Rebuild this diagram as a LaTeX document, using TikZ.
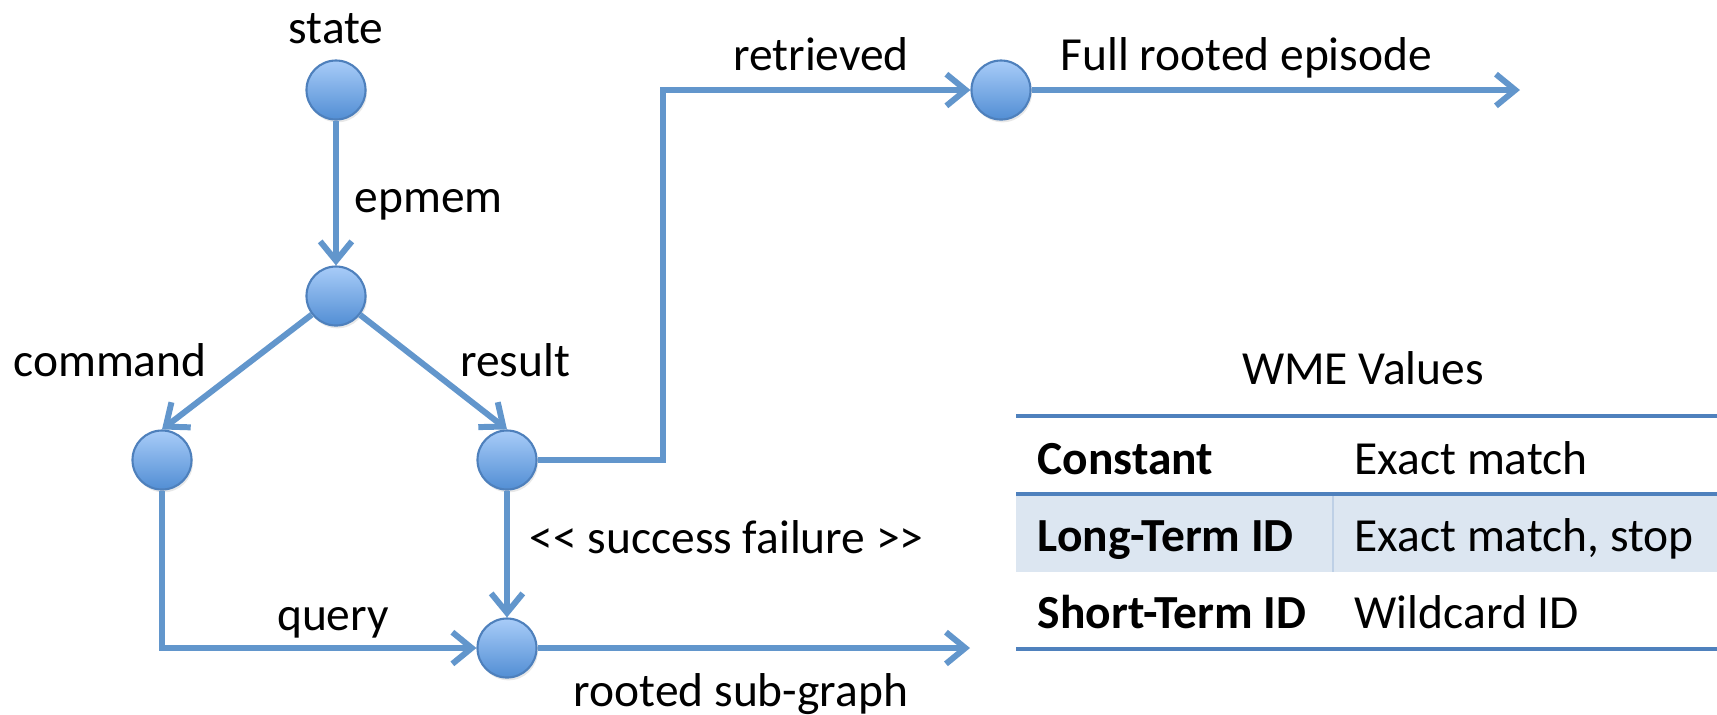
\documentclass[tikz,border=0pt]{standalone}
\usepackage{fontspec}
\setmainfont{Carlito}
\definecolor{epline}{RGB}{98,150,204}
\definecolor{epedge}{RGB}{78,128,188}
\definecolor{eptop}{RGB}{168,204,248}
\definecolor{epbottom}{RGB}{82,142,212}
\definecolor{eprule}{RGB}{79,129,189}
\definecolor{eprow}{RGB}{220,230,241}
\definecolor{epsep}{RGB}{190,208,230}
\usetikzlibrary{arrows.meta,positioning,shadows}

\begin{document}
\begin{tikzpicture}[x=0.01cm, y=-0.01cm,
    every node/.style={font=\fontsize{13.5pt}{16pt}\selectfont},
    dot/.style={circle, minimum size=0.59cm, inner sep=0pt, draw=epedge, line width=0.6pt,
      top color=eptop, bottom color=epbottom,
      drop shadow={opacity=0.18, shadow xshift=0.4pt, shadow yshift=-0.8pt}},
    wire/.style={draw=epline, line width=1.7pt},
    arr/.style={wire, -{Straight Barb[length=5.5pt, width=9pt, line width=1.7pt]}},
    lbl/.style={anchor=base, inner sep=0pt},
    rule/.style={draw=eprule, line width=1.1pt}]
  \useasboundingbox (0,0) rectangle (1717,714);

  % episode graph
  \node[dot] (state)     at (336, 90) {};
  \node[dot] (epmem)     at (336, 296) {};
  \node[dot] (command)   at (162, 460) {};
  \node[dot] (result)    at (507, 460) {};
  \node[dot] (retrieved) at (1001, 90) {};
  \node[dot] (query)     at (507, 648) {};
  \coordinate (riseTop)    at (663, 90);
  \coordinate (episodeEnd) at (1520, 90);
  \coordinate (subEnd)     at (970, 648);

  \draw[arr] (state) -- (epmem);
  \draw[arr] (epmem) -- (command.north);
  \draw[arr] (epmem) -- (result.north);
  \draw[arr] (result.east) -| (riseTop) -- (retrieved);
  \draw[arr] (retrieved) -- (episodeEnd);
  \draw[arr] (result) -- (query);
  \draw[arr] (command) |- (query);
  \draw[arr] (query) -- (subEnd);

  % edge labels
  \node[lbl] (stateLbl)   at (336, 43) {state};
  \node[lbl, anchor=base west] (epmemLbl) at (354, 212) {epmem};
  \node[lbl] (commandLbl) at (110, 376) {command};
  \node[lbl] (resultLbl)  at (515, 376) {result};
  \node[lbl] (retrLbl)    at (821, 70) {retrieved};
  \node[lbl, anchor=base west] (fullLbl) at (1060, 70) {Full rooted episode};
  \node[lbl, anchor=base west] (statusLbl) at (529, 553) {<{}< success failure >{}>};
  \node[lbl] (queryLbl)   at (333, 630) {query};
  \node[lbl] (subLbl)     at (741, 706) {rooted sub-graph};

  % WME value table
  \fill[eprow] (1016, 494) rectangle (1717, 572);
  \draw[epsep, line width=0.5pt] (1333, 494) -- (1333, 572);
  \draw[rule] (1016, 416) -- (1717, 416);
  \draw[rule] (1016, 494) -- (1717, 494);
  \draw[rule] (1016, 649) -- (1717, 649);
  \node[lbl] (wmeTitle) at (1363, 384) {WME Values};
  \node[lbl, anchor=base west, font=\fontsize{13.5pt}{16pt}\selectfont\bfseries] (constKey) at (1037, 474) {Constant};
  \node[lbl, anchor=base west] (constVal) at (1354, 474) {Exact match};
  \node[lbl, anchor=base west, font=\fontsize{13.5pt}{16pt}\selectfont\bfseries] (ltiKey) at (1037, 551) {Long-Term ID};
  \node[lbl, anchor=base west] (ltiVal) at (1354, 551) {Exact match, stop};
  \node[lbl, anchor=base west, font=\fontsize{13.5pt}{16pt}\selectfont\bfseries] (stiKey) at (1037, 628) {Short-Term ID};
  \node[lbl, anchor=base west] (stiVal) at (1354, 628) {Wildcard ID};
\end{tikzpicture}
\end{document}
